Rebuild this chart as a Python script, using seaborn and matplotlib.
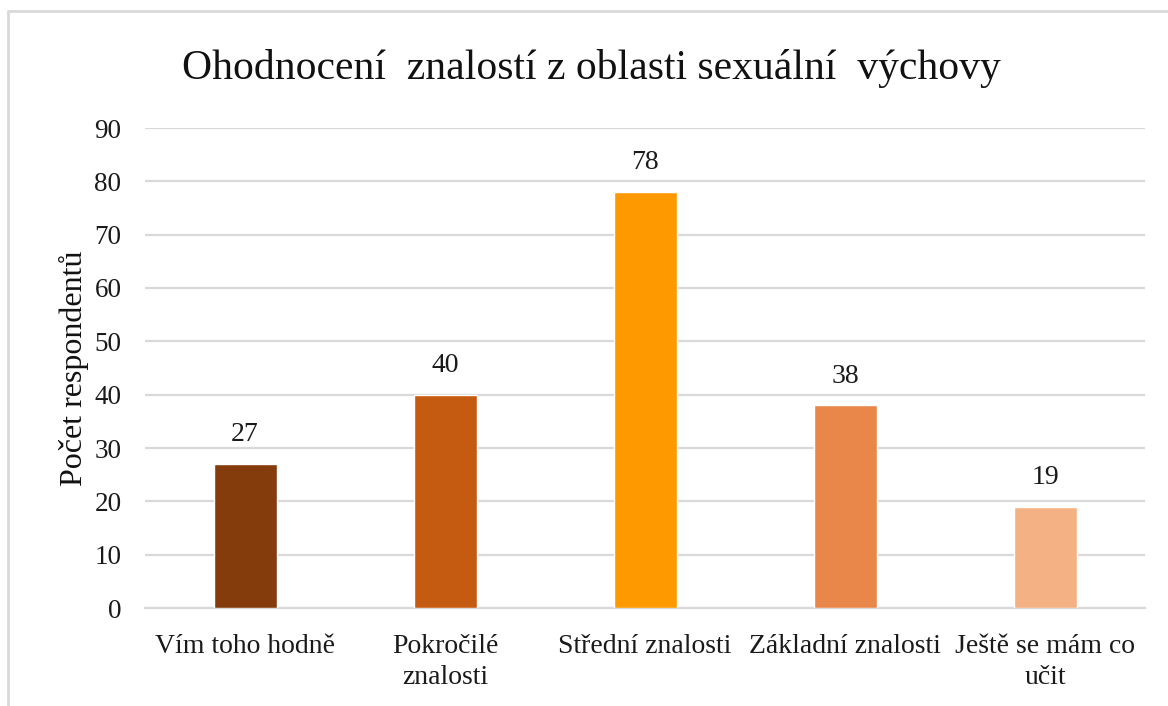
import matplotlib
matplotlib.use("Agg")
import matplotlib.pyplot as plt
from matplotlib.lines import Line2D
import seaborn as sns
import pandas as pd

categories = ["Vím toho hodně", "Pokročilé\nznalosti", "Střední znalosti",
              "Základní znalosti", "Ještě se mám co\nučit"]
counts = [27, 40, 78, 38, 19]
colors = ["#843C0C", "#C55A11", "#FF9900", "#E9874B", "#F4B183"]
yticks = [0, 10, 20, 30, 40, 50, 60, 70, 80, 90]

title = "Ohodnocení  znalostí z oblasti sexuální  výchovy"
ylabel = "Počet respondentů"

sns.set_theme(style="white")
plt.rcParams["font.family"] = ["Liberation Serif", "DejaVu Serif"]

df = pd.DataFrame({"kategorie": categories, "pocet": counts})

fig = plt.figure(figsize=(11.68, 7.06), dpi=100)
ax = fig.add_axes([145 / 1168, 1 - 608 / 706, 1000 / 1168, 480 / 706])

sns.barplot(data=df, x="kategorie", y="pocet", hue="kategorie",
            palette=colors, legend=False, width=0.315, ax=ax,
            saturation=1, zorder=3)

ax.set_ylim(0, 90)
ax.set_xlim(-0.5, len(categories) - 0.5)
ax.set_yticks(yticks)
ax.yaxis.grid(True, color="#D9D9D9", linewidth=1.6, zorder=0)
ax.set_axisbelow(True)
for s in ["top", "right", "left"]:
    ax.spines[s].set_visible(False)
ax.spines["bottom"].set_color("#D9D9D9")
ax.spines["bottom"].set_linewidth(1.6)
ax.tick_params(axis="both", length=0, colors="#1a1a1a")
ax.tick_params(axis="y", labelsize=19.5, pad=17)
ax.tick_params(axis="x", labelsize=20, pad=19)
ax.set_xlabel("")
ax.set_ylabel(ylabel, fontsize=23, labelpad=4, color="#111111")

for lbl in ax.get_xticklabels():
    lbl.set_multialignment("center")
    lbl.set_linespacing(1.3)

for container in ax.containers:
    ax.bar_label(container, fontsize=20, padding=12, color="#1a1a1a")

fig.text(591 / 1168, 1 - 69 / 706, title, fontsize=30, ha="center",
         va="center", color="#111111")

# light frame around the chart area
fig.add_artist(Line2D([8 / 1168, 8 / 1168], [0, 1 - 11 / 706],
                      transform=fig.transFigure, color="#D9D9D9", linewidth=2))
fig.add_artist(Line2D([8 / 1168, 1], [1 - 11 / 706, 1 - 11 / 706],
                      transform=fig.transFigure, color="#D9D9D9", linewidth=2))

fig.savefig("out.png", dpi=100, facecolor="white")
